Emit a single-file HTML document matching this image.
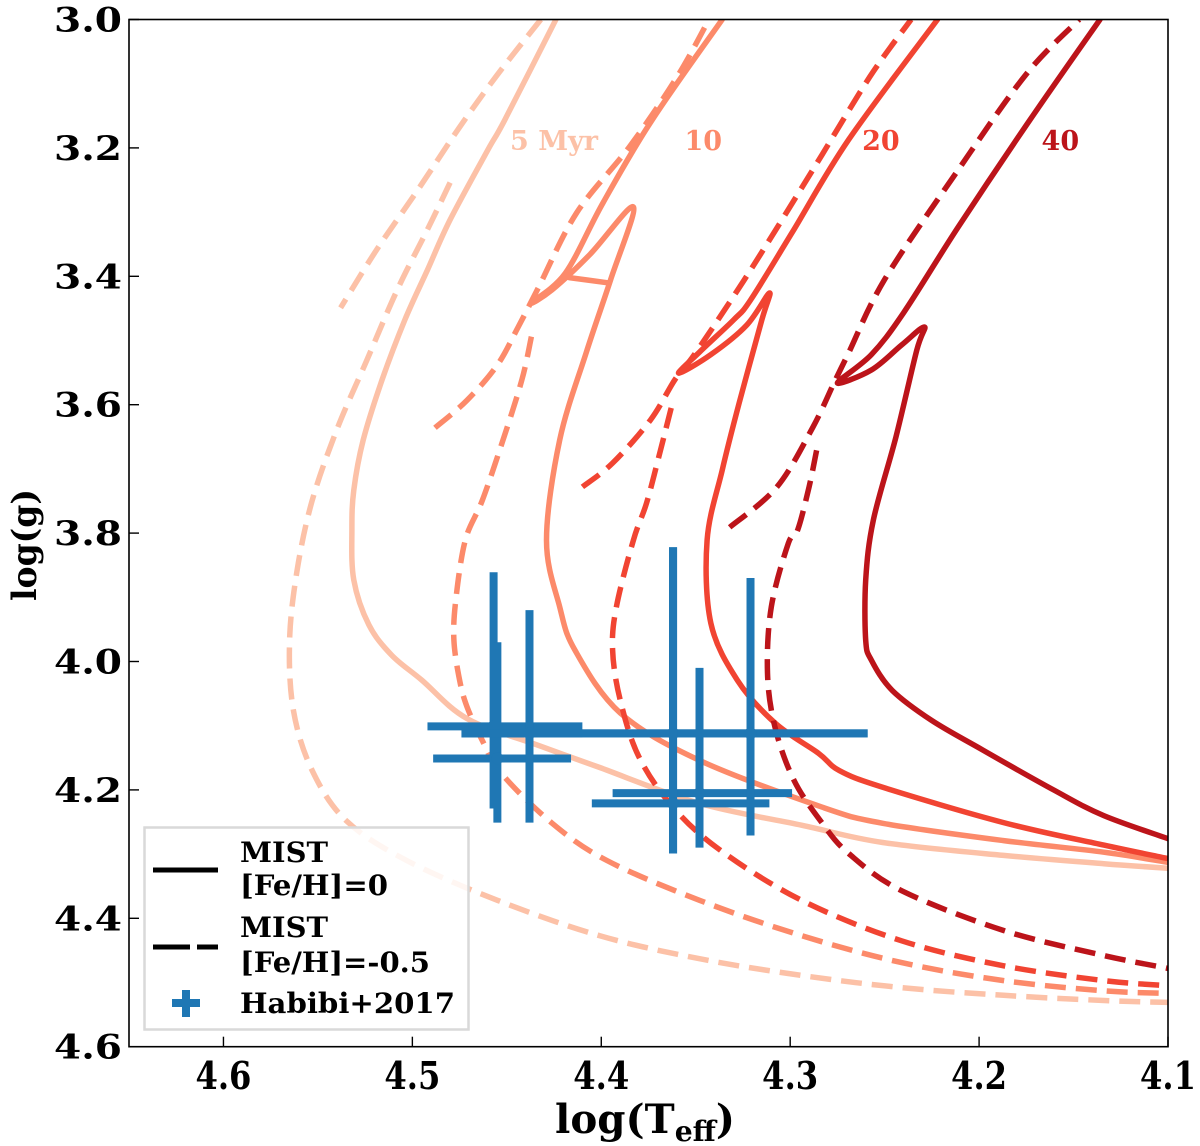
<!DOCTYPE html>
<html><head><meta charset="utf-8"><style>
html,body{margin:0;padding:0;background:#fff;}
svg{display:block;}
text{font-family:"DejaVu Serif","Liberation Serif",serif;font-weight:bold;}
</style></head>
<body>
<svg id="chart" width="1200" height="1146" viewBox="0 0 1200 1146" xmlns="http://www.w3.org/2000/svg">
<g id="plot"></g>
<g id="axes"></g>
</svg>
<script>
// ---- data (logTeff, logg) ----
const xTicks=[4.6,4.5,4.4,4.3,4.2,4.1];
const yTicks=[3.0,3.2,3.4,3.6,3.8,4.0,4.2,4.4,4.6];
const ages=["5 Myr","10","20","40"];
const ageColors=["#fcc1a7","#fc8a6a","#f14432","#bc141a"];
const labelT=[4.425,4.346,4.252,4.157];
const labelG=3.2;

const s5=[[4.424,3.000],[4.451,3.156],[4.460,3.203],[4.480,3.312],[4.492,3.390],[4.504,3.468],[4.516,3.561],[4.526,3.655],[4.531,3.733],[4.532,3.795],[4.531,3.873],[4.523,3.943],[4.511,3.990],[4.495,4.029],[4.471,4.089],[4.433,4.131],[4.401,4.165],[4.348,4.221],[4.294,4.255],[4.251,4.282],[4.187,4.302],[4.134,4.315],[4.100,4.322]];
const d5a=[[4.432,3.000],[4.455,3.086],[4.476,3.172],[4.497,3.265],[4.519,3.359],[4.538,3.449]];
const d5=[[4.480,3.254],[4.492,3.327],[4.508,3.421],[4.524,3.530],[4.540,3.639],[4.553,3.749],[4.561,3.858],[4.565,3.967],[4.563,4.076],[4.553,4.170],[4.535,4.248],[4.503,4.310],[4.455,4.372],[4.401,4.427],[4.348,4.463],[4.294,4.489],[4.241,4.508],[4.187,4.520],[4.134,4.528],[4.100,4.531]];
const s10=[[4.336,3.000],[4.373,3.156],[4.399,3.285],[4.419,3.395],[4.437,3.441],[4.426,3.421],[4.406,3.366],[4.383,3.292],[4.395,3.405],[4.408,3.519],[4.422,3.655],[4.429,3.811],[4.422,3.915],[4.414,3.982],[4.390,4.080],[4.348,4.154],[4.283,4.227],[4.251,4.252],[4.187,4.279],[4.134,4.297],[4.100,4.313]];
const s10bar=[[4.417,3.402],[4.397,3.410]];
const d10a=[[4.488,3.636],[4.471,3.593],[4.455,3.538],[4.444,3.479],[4.433,3.416],[4.413,3.301],[4.385,3.198],[4.360,3.090],[4.343,3.000]];
const d10=[[4.437,3.494],[4.442,3.561],[4.452,3.655],[4.463,3.749],[4.472,3.811],[4.477,3.904],[4.478,3.967],[4.475,4.029],[4.471,4.071],[4.463,4.123],[4.453,4.174],[4.426,4.252],[4.397,4.310],[4.348,4.372],[4.294,4.427],[4.241,4.469],[4.187,4.497],[4.134,4.513],[4.100,4.517]];
const s20=[[4.222,3.000],[4.269,3.187],[4.299,3.332],[4.321,3.437],[4.330,3.468],[4.348,3.518],[4.359,3.551],[4.342,3.522],[4.323,3.476],[4.311,3.426],[4.315,3.468],[4.327,3.597],[4.336,3.702],[4.344,3.811],[4.342,3.940],[4.328,4.029],[4.308,4.096],[4.285,4.143],[4.274,4.170],[4.251,4.196],[4.187,4.251],[4.134,4.286],[4.100,4.307]];
const d20a=[[4.410,3.728],[4.394,3.691],[4.374,3.624],[4.361,3.561],[4.350,3.519],[4.322,3.395],[4.288,3.234],[4.258,3.090],[4.236,3.000]];
const d20=[[4.363,3.605],[4.369,3.675],[4.376,3.753],[4.383,3.811],[4.392,3.915],[4.394,3.982],[4.390,4.060],[4.380,4.149],[4.362,4.227],[4.337,4.294],[4.294,4.372],[4.241,4.435],[4.187,4.474],[4.134,4.497],[4.100,4.505]];
const s40=[[4.136,3.000],[4.173,3.156],[4.211,3.323],[4.240,3.457],[4.257,3.522],[4.275,3.566],[4.257,3.546],[4.241,3.507],[4.229,3.479],[4.233,3.515],[4.244,3.650],[4.256,3.780],[4.260,3.873],[4.260,3.967],[4.257,3.998],[4.246,4.045],[4.225,4.092],[4.198,4.138],[4.160,4.201],[4.134,4.240],[4.100,4.276]];
const d40a=[[4.332,3.791],[4.307,3.728],[4.288,3.635],[4.276,3.561],[4.269,3.519],[4.250,3.405],[4.211,3.234],[4.175,3.085],[4.147,3.000]];
const d40=[[4.286,3.671],[4.290,3.728],[4.296,3.795],[4.301,3.816],[4.310,3.915],[4.312,4.018],[4.308,4.103],[4.298,4.185],[4.283,4.252],[4.269,4.299],[4.241,4.357],[4.187,4.419],[4.134,4.458],[4.100,4.478]];

// Habibi+2017 stars
const starT=[4.457,4.455,4.438,4.362,4.348,4.321,4.362];
const starG=[4.101,4.151,4.112,4.112,4.205,4.112,4.221];
const starTlo=[4.492,4.489,4.474,4.474,4.394,4.474,4.405];
const starThi=[4.410,4.416,4.410,4.259,4.299,4.259,4.311];
const starGlo=[3.861,3.970,3.920,3.822,4.010,3.870,3.822];
const starGhi=[4.229,4.251,4.251,4.299,4.290,4.271,4.299];

// ---- scales ----
const X0=129,X1=1168,Y0=19.5,Y1=1046.7;
const xMin=4.65,xMax=4.1,yMin=3.0,yMax=4.6;
function sx(t){return X0+(xMin-t)/(xMin-xMax)*(X1-X0);}
function sy(g){return Y0+(g-yMin)/(yMax-yMin)*(Y1-Y0);}
const NS="http://www.w3.org/2000/svg";
const plot=document.getElementById('plot');
const axes=document.getElementById('axes');
function mk(tag,attrs,parent){const e=document.createElementNS(NS,tag);for(const k in attrs)e.setAttribute(k,attrs[k]);parent.appendChild(e);return e;}
function smoothPath(pts){
  const P=pts.map(p=>[sx(p[0]),sy(p[1])]);
  let d='M'+P[0][0].toFixed(1)+' '+P[0][1].toFixed(1);
  for(let i=0;i<P.length-1;i++){
    const p0=P[Math.max(0,i-1)],p1=P[i],p2=P[i+1],p3=P[Math.min(P.length-1,i+2)];
    const c1=[p1[0]+(p2[0]-p0[0])/6,p1[1]+(p2[1]-p0[1])/6];
    const c2=[p2[0]-(p3[0]-p1[0])/6,p2[1]-(p3[1]-p1[1])/6];
    d+=' C'+c1[0].toFixed(1)+' '+c1[1].toFixed(1)+' '+c2[0].toFixed(1)+' '+c2[1].toFixed(1)+' '+p2[0].toFixed(1)+' '+p2[1].toFixed(1);
  }
  return d;
}

const defs=mk('defs',{},document.getElementById('chart'));
const cp=mk('clipPath',{id:'clip'},defs);
mk('rect',{x:X0,y:Y0,width:X1-X0,height:Y1-Y0},cp);
plot.setAttribute('clip-path','url(#clip)');

const curves=[
 [s5,0,false,'isochrone-5myr-solar'],
 [d5a,0,true,'isochrone-5myr-lowz-branch'],
 [d5,0,true,'isochrone-5myr-lowz'],
 [s10,1,false,'isochrone-10myr-solar'],
 [s10bar,1,false,'isochrone-10myr-solar-segment'],
 [d10a,1,true,'isochrone-10myr-lowz-branch'],
 [d10,1,true,'isochrone-10myr-lowz'],
 [s20,2,false,'isochrone-20myr-solar'],
 [d20a,2,true,'isochrone-20myr-lowz-branch'],
 [d20,2,true,'isochrone-20myr-lowz'],
 [s40,3,false,'isochrone-40myr-solar'],
 [d40a,3,true,'isochrone-40myr-lowz-branch'],
 [d40,3,true,'isochrone-40myr-lowz']
];
curves.forEach(c=>{
  const el=mk('path',{d:smoothPath(c[0]),fill:'none',stroke:ageColors[c[1]],'stroke-width':5.5,'stroke-linejoin':'round','stroke-linecap':c[2]?'butt':'round'},plot);
  if(c[2])el.setAttribute('stroke-dasharray','21 10');
  
  
});

for(let i=0;i<starT.length;i++){
  const g=mk('g',{},plot);
  
  
  mk('line',{x1:sx(starTlo[i]),x2:sx(starThi[i]),y1:sy(starG[i]),y2:sy(starG[i]),stroke:'#1f77b4','stroke-width':8},g);
  mk('line',{x1:sx(starT[i]),x2:sx(starT[i]),y1:sy(starGlo[i]),y2:sy(starGhi[i]),stroke:'#1f77b4','stroke-width':8},g);
  mk('circle',{cx:sx(starT[i]),cy:sy(starG[i]),r:6,fill:'#1f77b4'},g);
}

ages.forEach((a,i)=>{
  const t=mk('text',{x:sx(labelT[i]),y:sy(labelG)+2,fill:ageColors[i],'font-size':27,'text-anchor':'middle'},plot);
  t.textContent=a;
  
  
});

const fr=mk('rect',{x:X0,y:Y0,width:X1-X0,height:Y1-Y0,fill:'none',stroke:'#000','stroke-width':1.6},axes);



xTicks.forEach(v=>{
  const x=sx(v);
  mk('line',{x1:x,x2:x,y1:Y1,y2:Y1-10,stroke:'#000','stroke-width':1.4},axes);
  const t=mk('text',{x:x,y:1089,'font-size':38,'text-anchor':'middle',fill:'#000',textLength:56,lengthAdjust:'spacingAndGlyphs'},axes);
  t.textContent=v.toFixed(1);
  
  
});
yTicks.forEach(v=>{
  const y=sy(v);
  mk('line',{x1:X0,x2:X0+10,y1:y,y2:y,stroke:'#000','stroke-width':1.4},axes);
  const t=mk('text',{x:122,y:y+12,'font-size':34,'text-anchor':'end',fill:'#000',textLength:68,lengthAdjust:'spacingAndGlyphs'},axes);
  t.textContent=v.toFixed(1);
  
  
});
</script>
<svg style="position:absolute;left:0;top:0" width="1200" height="1146">
<text x="645" y="1133" font-size="40" text-anchor="middle" textLength="180" lengthAdjust="spacingAndGlyphs">log(T<tspan font-size="28" dy="8">eff</tspan><tspan dy="-8">)</tspan></text>
<text transform="translate(36,545) rotate(-90)" font-size="34" text-anchor="middle" textLength="112" lengthAdjust="spacingAndGlyphs">log(g)</text>
<g>
<rect x="144.5" y="827.5" width="324" height="202" fill="#fff" fill-opacity="0.85" stroke="#d9d9d9" stroke-width="2.5"/>
<g>
<line x1="153" y1="870" x2="218" y2="870" stroke="#000" stroke-width="5"/>
<text x="240" y="862" font-size="28" textLength="88" lengthAdjust="spacingAndGlyphs">MIST</text>
<text x="240" y="895" font-size="28" textLength="148" lengthAdjust="spacingAndGlyphs">[Fe/H]=0</text>
</g>
<g>
<line x1="153" y1="947" x2="218" y2="947" stroke="#000" stroke-width="5" stroke-dasharray="37 7"/>
<text x="240" y="937" font-size="28" textLength="88" lengthAdjust="spacingAndGlyphs">MIST</text>
<text x="240" y="972" font-size="28" textLength="190" lengthAdjust="spacingAndGlyphs">[Fe/H]=-0.5</text>
</g>
<g>
<line x1="172" y1="1003" x2="200" y2="1003" stroke="#1f77b4" stroke-width="8"/>
<line x1="186" y1="990" x2="186" y2="1017" stroke="#1f77b4" stroke-width="8"/>
<text x="240" y="1013" font-size="28" textLength="215" lengthAdjust="spacingAndGlyphs">Habibi+2017</text>
</g>
</g>
</svg>
</body></html>
